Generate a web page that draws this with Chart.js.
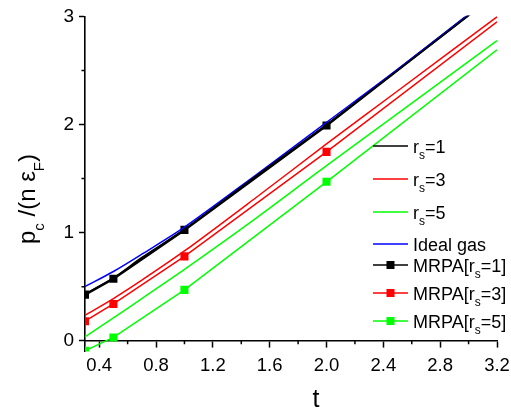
<!DOCTYPE html>
<html>
<head>
<meta charset="utf-8">
<script src="https://cdn.jsdelivr.net/npm/chart.js@4.4.1/dist/chart.umd.min.js"></script>
<style>
  html, body { margin: 0; padding: 0; background: #fff; }
</style>
</head>
<body>
<canvas id="pressureChart" width="511" height="411"></canvas>
<script>
// smooth curves
const tCurve = [0.3, 0.5, 0.7, 1.0, 1.5, 2.0, 2.5, 3.2];
const rs1Curve = [0.43, 0.58, 0.77, 1.03, 1.52, 2.00, 2.50, 3.21];
const rs3Curve = [0.235, 0.39, 0.56, 0.83, 1.32, 1.82, 2.31, 2.995];
const rs5Curve = [0.035, 0.21, 0.39, 0.66, 1.13, 1.62, 2.10, 2.776];
const idealCurve = [0.50, 0.64, 0.80, 1.05, 1.53, 2.02, 2.51, 3.22];

// MRPA points (last one is only the line running off the right edge)
const tMrpa = [0.3, 0.5, 1.0, 2.0, 3.2];
const mrpa1 = [0.426, 0.573, 1.025, 1.99, 3.22];
const mrpa3 = [0.18, 0.34, 0.78, 1.747, 2.95];
const mrpa5 = [-0.094, 0.03, 0.47, 1.47, 2.69];

const xTicks = [0.4, 0.8, 1.2, 1.6, 2.0, 2.4, 2.8, 3.2];
const xMinor = [0.6, 1.0, 1.4, 1.8, 2.2, 2.6, 3.0];
const yTicks = [0, 1, 2, 3];
const yMinor = [0.5, 1.5, 2.5];

// {s} = subscript
const seriesLabels = ['r{s}=1', 'r{s}=3', 'r{s}=5', 'Ideal gas', 'MRPA[r{s}=1]', 'MRPA[r{s}=3]', 'MRPA[r{s}=5]'];

const FONT = "'Liberation Sans', Arial, sans-serif";
const GREEN = '#00ff00';

const pts = (xs, ys) => xs.map((x, i) => ({ x, y: ys[i] }));
const mrpaRadius = tMrpa.map((_, i) => (i < tMrpa.length - 1 ? 5.7 : 0));

function curve(label, ys, color) {
  return {
    label, data: pts(tCurve, ys), borderColor: color, backgroundColor: color,
    borderWidth: 1.5, pointRadius: 0, tension: 0.3, fill: false, clip: 1
  };
}

function mrpa(label, ys, color, width) {
  return {
    label, data: pts(tMrpa, ys), borderColor: color, backgroundColor: color,
    borderWidth: width, pointRadius: mrpaRadius, pointStyle: 'rect',
    pointBorderWidth: 0, tension: 0, fill: false, clip: 0
  };
}

// split 'r{s}=1' into plain / sub parts
function parseRich(str) {
  const parts = [];
  str.split(/(\{[^}]*\})/).forEach(p => {
    if (!p) return;
    if (p[0] === '{') parts.push({ t: p.slice(1, -1), sub: true });
    else parts.push({ t: p, sub: false });
  });
  return parts;
}

function richWidth(ctx, parts, size, subSize) {
  let w = 0;
  parts.forEach(p => {
    ctx.font = (p.sub ? subSize : size) + 'px ' + FONT;
    w += ctx.measureText(p.t).width;
  });
  return w;
}

function drawRich(ctx, parts, x, y, size, subSize, subDrop) {
  let cx = x;
  ctx.textAlign = 'left';
  ctx.textBaseline = 'alphabetic';
  parts.forEach(p => {
    ctx.font = (p.sub ? subSize : size) + 'px ' + FONT;
    ctx.fillText(p.t, cx, p.sub ? y + subDrop : y);
    cx += ctx.measureText(p.t).width;
  });
}

const decorations = {
  id: 'decorations',
  afterDraw(chart) {
    const ctx = chart.ctx;
    const xs = chart.scales.x, ys = chart.scales.y;
    const y0 = ys.getPixelForValue(0);
    const xLeft = chart.chartArea.left;
    ctx.save();
    ctx.strokeStyle = '#000';
    ctx.lineWidth = 1.5;
    ctx.beginPath();
    xMinor.forEach(v => {
      const px = xs.getPixelForValue(v);
      ctx.moveTo(px, y0); ctx.lineTo(px, y0 + 3.5);
    });
    yMinor.forEach(v => {
      const py = ys.getPixelForValue(v);
      ctx.moveTo(xLeft, py); ctx.lineTo(xLeft - 3.5, py);
    });
    ctx.stroke();

    ctx.fillStyle = '#000';
    // x title
    ctx.font = '25px ' + FONT;
    ctx.textAlign = 'center';
    ctx.textBaseline = 'alphabetic';
    ctx.fillText('t', 316, 407);

    // y title, rotated
    const yTitle = parseRich('p{c} /(n ε{F})');
    const w = richWidth(ctx, yTitle, 24, 15);
    ctx.save();
    ctx.translate(35, 199);
    ctx.rotate(-Math.PI / 2);
    drawRich(ctx, yTitle, -w / 2, 0, 24, 15, 8.5);
    ctx.restore();

    // legend
    const rowY = [146, 179, 212, 244, 265, 293, 321];
    chart.data.datasets.forEach((ds, i) => {
      const ly = rowY[i];
      ctx.strokeStyle = ds.borderColor;
      ctx.lineWidth = 1.5;
      ctx.beginPath();
      ctx.moveTo(373, ly); ctx.lineTo(408, ly);
      ctx.stroke();
      if (ds.pointStyle === 'rect') {
        ctx.fillStyle = ds.borderColor;
        ctx.fillRect(386.5, ly - 4, 8, 8);
      }
      ctx.fillStyle = '#000';
      drawRich(ctx, parseRich(ds.label), 413, ly + 6.5, 18, 12, 6);
    });
    ctx.restore();
  }
};

new Chart(document.getElementById('pressureChart'), {
  type: 'line',
  data: {
    datasets: [
      curve(seriesLabels[0], rs1Curve, '#000000'),
      curve(seriesLabels[1], rs3Curve, '#ff0000'),
      curve(seriesLabels[2], rs5Curve, GREEN),
      curve(seriesLabels[3], idealCurve, '#0000ff'),
      mrpa(seriesLabels[4], mrpa1, '#000000', 2.5),
      mrpa(seriesLabels[5], mrpa3, '#ff0000', 1.5),
      mrpa(seriesLabels[6], mrpa5, GREEN, 1.5)
    ]
  },
  options: {
    responsive: false,
    animation: false,
    layout: { padding: { left: 0, top: 15, right: 14, bottom: 59.5 } },
    plugins: { legend: { display: false }, tooltip: { enabled: false } },
    scales: {
      x: {
        type: 'linear',
        position: { y: 0 },
        min: 0.3, max: 3.2,
        afterBuildTicks: s => { s.ticks = xTicks.map(v => ({ value: v })); },
        afterFit: s => { s.paddingLeft = 0; s.paddingRight = 0; },
        grid: { drawOnChartArea: false, tickLength: 6, tickWidth: 1.5, tickColor: '#000' },
        border: { color: '#000', width: 1.6 },
        ticks: { color: '#000', font: { family: FONT, size: 18.5 }, padding: 8, maxRotation: 0,
                 callback: v => v.toFixed(1) }
      },
      y: {
        type: 'linear',
        min: -0.1, max: 3,
        afterBuildTicks: s => { s.ticks = yTicks.map(v => ({ value: v })); },
        afterFit: s => { s.width = 85; },
        grid: { drawOnChartArea: false, tickLength: 6, tickWidth: 1.5, tickColor: '#000' },
        border: { color: '#000', width: 1.6 },
        ticks: { color: '#000', font: { family: FONT, size: 19 }, padding: 5,
                 callback: v => String(v) }
      }
    }
  },
  plugins: [decorations]
});
</script>
</body>
</html>
